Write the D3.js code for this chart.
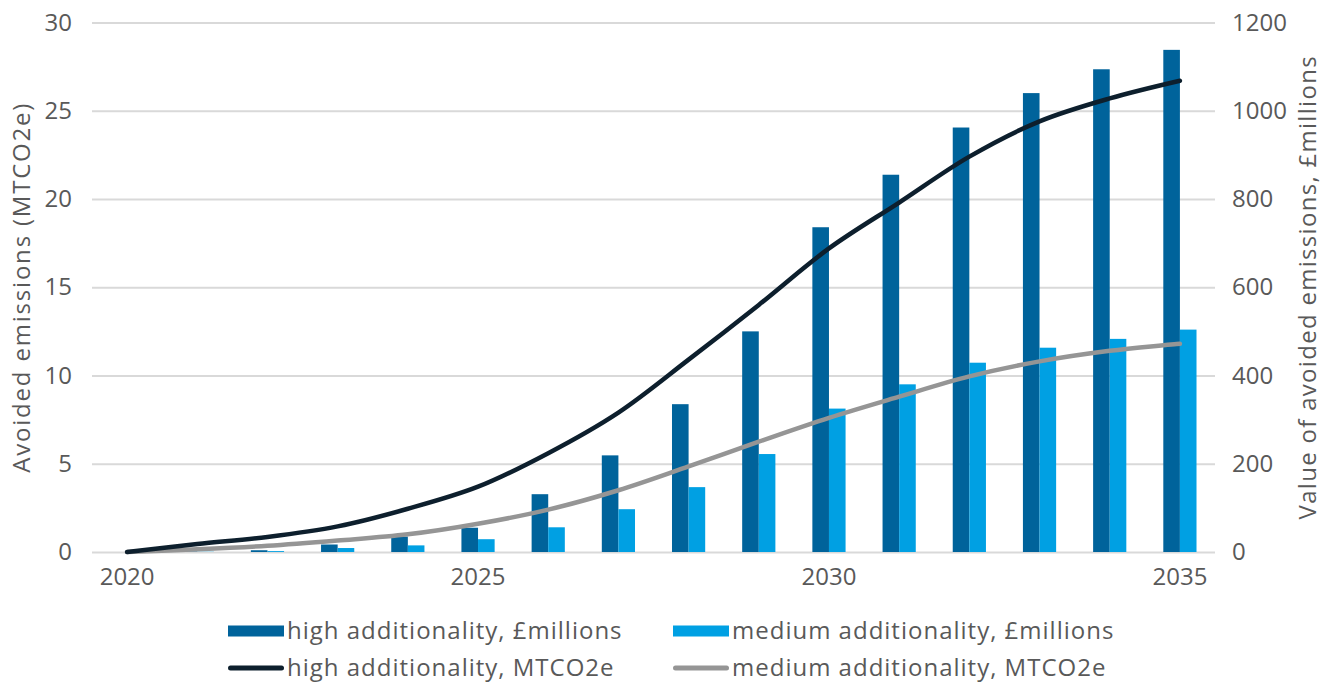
<!doctype html>
<html lang="en">
<head>
    <meta charset="utf-8">
    <title>Avoided emissions</title>
    <script src="https://cdnjs.cloudflare.com/ajax/libs/d3/7.8.5/d3.min.js"></script>
    <style>
        body { margin: 0; background: #fff; }
        #chart text {
            font-family: "Open Sans", sans-serif;
            fill: #595959;
        }
        .grid line { stroke: #d9d9d9; stroke-width: 2; }
        .grid .domain { display: none; }
    </style>
</head>
<body>
    <div id="chart"></div>
    <script>
        // data
        var years = d3.range(2020, 2036);
        var highValue = [0, 1, 4, 17, 35, 55, 131, 219, 335, 500, 736, 855, 962, 1040, 1094, 1138];   // £millions
        var mediumValue = [0, 0.5, 2, 9, 15, 29, 56, 97, 147, 222, 325, 380, 429, 463, 483, 504];      // £millions
        var highEmissions = [0, 0.45, 0.85, 1.45, 2.45, 3.7, 5.6, 7.9, 10.9, 14.0, 17.2, 19.8, 22.4, 24.4, 25.7, 26.7];   // MTCO2e
        var mediumEmissions = [0, 0.15, 0.35, 0.65, 1.0, 1.6, 2.4, 3.5, 4.85, 6.25, 7.6, 8.8, 9.95, 10.8, 11.4, 11.8];   // MTCO2e
        var leftTicks = [0, 5, 10, 15, 20, 25, 30];
        var rightTicks = [0, 200, 400, 600, 800, 1000, 1200];
        var yearTicks = [2020, 2025, 2030, 2035];
        var barKeys = ["high", "medium"];

        var width = 1323, height = 685;
        var plotLeft = 92, plotRight = 1215, plotTop = 22.5, plotBottom = 552;

        var svg = d3.select("#chart").append("svg")
            .attr("width", width)
            .attr("height", height);

        var x = d3.scaleBand().domain(years).range([plotLeft, plotRight]);
        var barW = 16.6;
        var xSub = d3.scaleBand().domain(barKeys).range([-barW, barW]);
        var yL = d3.scaleLinear().domain([0, 30]).range([plotBottom, plotTop]);
        var yR = d3.scaleLinear().domain([0, 1200]).range([plotBottom, plotTop]);
        var cx = function(yr) { return x(yr) + x.bandwidth() / 2; };

        // gridlines
        svg.append("g")
            .attr("class", "grid")
            .attr("transform", "translate(" + plotLeft + ",0)")
            .call(d3.axisLeft(yL).tickValues(leftTicks).tickSize(-(plotRight - plotLeft)).tickFormat(""));

        // left axis
        var gl = svg.append("g")
            .attr("transform", "translate(" + plotLeft + ",0)")
            .call(d3.axisLeft(yL).tickValues(leftTicks).tickSize(0).tickPadding(20));
        gl.select(".domain").remove();

        // right axis
        var gr = svg.append("g")
            .attr("transform", "translate(" + plotRight + ",0)")
            .call(d3.axisRight(yR).tickValues(rightTicks).tickSize(0).tickPadding(17).tickFormat(d3.format("d")));
        gr.select(".domain").remove();

        // bottom axis
        var gb = svg.append("g")
            .attr("transform", "translate(0," + plotBottom + ")")
            .call(d3.axisBottom(x).tickValues(yearTicks).tickSize(0).tickPadding(16));
        gb.select(".domain").remove();

        svg.selectAll(".tick text")
            .attr("font-size", 24);

        // axis titles
        svg.append("text")
            .attr("transform", "translate(30," + ((plotTop + plotBottom) / 2) + ") rotate(-90)")
            .attr("text-anchor", "middle")
            .attr("font-size", 24)
            .attr("letter-spacing", 1.8)
            .text("Avoided emissions (MTCO2e)");

        svg.append("text")
            .attr("transform", "translate(1316," + ((plotTop + plotBottom) / 2) + ") rotate(-90)")
            .attr("text-anchor", "middle")
            .attr("font-size", 24)
            .attr("letter-spacing", 1.3)
            .text("Value of avoided emissions, £millions");

        // bars
        var barData = years.map(function(yr, i) {
            return { year: yr, high: highValue[i], medium: mediumValue[i] };
        });
        var barColor = { high: "#00639b", medium: "#00a0e3" };

        var group = svg.selectAll("g.year")
            .data(barData)
            .enter()
            .append("g")
            .attr("class", "year")
            .attr("transform", function(d) { return "translate(" + cx(d.year) + ",0)"; });

        group.selectAll("rect")
            .data(function(d) { return barKeys.map(function(k) { return { key: k, value: d[k] }; }); })
            .enter()
            .append("rect")
            .attr("x", function(d) { return xSub(d.key); })
            .attr("width", xSub.bandwidth())
            .attr("y", function(d) { return yR(d.value); })
            .attr("height", function(d) { return plotBottom - yR(d.value); })
            .attr("fill", function(d) { return barColor[d.key]; });

        // lines
        var line = d3.line()
            .x(function(d) { return cx(d.year); })
            .y(function(d) { return yL(d.value); })
            .curve(d3.curveCatmullRom);

        var lineSeries = [
            { values: mediumEmissions, color: "#959595" },
            { values: highEmissions, color: "#0d1f2d" }
        ];

        svg.selectAll("path.series")
            .data(lineSeries)
            .enter()
            .append("path")
            .attr("class", "series")
            .attr("fill", "none")
            .attr("stroke", function(d) { return d.color; })
            .attr("stroke-width", 4.5)
            .attr("stroke-linecap", "round")
            .attr("d", function(d) {
                return line(years.map(function(yr, i) { return { year: yr, value: d.values[i] }; }));
            });

        // legend
        var legendItems = [
            { label: "high additionality, £millions", color: "#00639b", type: "bar", col: 0, row: 0 },
            { label: "medium additionality, £millions", color: "#00a0e3", type: "bar", col: 1, row: 0 },
            { label: "high additionality, MTCO2e", color: "#0d1f2d", type: "line", col: 0, row: 1 },
            { label: "medium additionality, MTCO2e", color: "#959595", type: "line", col: 1, row: 1 }
        ];
        var legendX = [228, 673], legendY = [631, 668];

        var item = svg.selectAll("g.legend")
            .data(legendItems)
            .enter()
            .append("g")
            .attr("class", "legend")
            .attr("transform", function(d) { return "translate(" + legendX[d.col] + "," + legendY[d.row] + ")"; });

        item.append("rect")
            .attr("x", 0)
            .attr("y", function(d) { return d.type === "bar" ? -5.5 : -2.5; })
            .attr("width", 56)
            .attr("height", function(d) { return d.type === "bar" ? 11 : 5; })
            .attr("rx", function(d) { return d.type === "bar" ? 0 : 2.5; })
            .attr("fill", function(d) { return d.color; });

        item.append("text")
            .attr("x", 59)
            .attr("dy", "0.35em")
            .attr("font-size", 24)
            .attr("letter-spacing", 1)
            .text(function(d) { return d.label; });
    </script>
</body>
</html>
